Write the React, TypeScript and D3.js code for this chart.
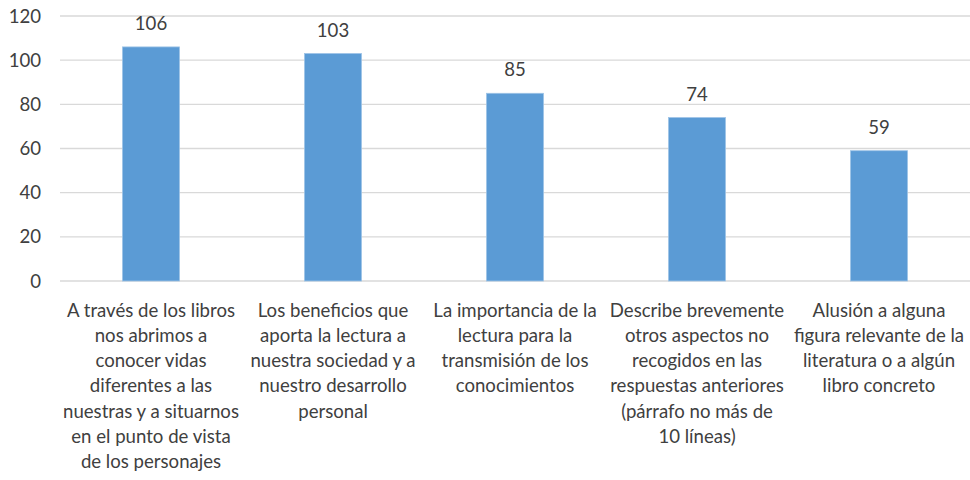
import React from "react";
import * as d3 from "d3";

const categories: string[][] = [
  ["A través de los libros", "nos abrimos a", "conocer vidas", "diferentes a las", "nuestras y a situarnos", "en el punto de vista", "de los personajes"],
  ["Los beneficios que", "aporta la lectura a", "nuestra sociedad y a", "nuestro desarrollo", "personal"],
  ["La importancia de la", "lectura para la", "transmisión de los", "conocimientos"],
  ["Describe brevemente", "otros aspectos no", "recogidos en las", "respuestas anteriores", "(párrafo no más de", "10 líneas)"],
  ["Alusión a alguna", "figura relevante de la", "literatura o a algún", "libro concreto"],
];
const values: number[] = [106, 103, 85, 74, 59];
const yTicks: number[] = [0, 20, 40, 60, 80, 100, 120];

const W = 970;
const H = 480;
const FONT = "Lato, 'Open Sans', sans-serif";
const FS = 18.6;

export default function App() {
  const x = d3.scaleBand<number>().domain(d3.range(values.length)).range([60, 970]).paddingInner(0.687).paddingOuter(0.3435);
  const y = d3.scaleLinear().domain([0, 120]).range([281, 16]);
  const textColor = "#404040";
  return (
    <svg width={W} height={H} style={{ position: "absolute", left: 0, top: 0 }}>
      <rect width={W} height={H} fill="#fff" />
      {yTicks.map((t) => (
        <g key={t}>
          <line x1={60} x2={970} y1={y(t)} y2={y(t)} stroke="#d9d9d9" strokeWidth={1.3} />
          <text x={41} y={y(t)} dy="0.35em" textAnchor="end" fontFamily={FONT} fontSize={FS} fill={textColor}>
            {t}
          </text>
        </g>
      ))}
      {values.map((v, i) => {
        const bx = x(i)!;
        const bw = x.bandwidth();
        const cx = bx + bw / 2;
        return (
          <g key={i}>
            <rect x={bx} y={y(v)} width={bw} height={y(0) - y(v)} fill="#5B9BD5" stroke="#9dc3e6" strokeWidth={0.8} />
            <text x={cx} y={y(v) - 17} textAnchor="middle" fontFamily={FONT} fontSize={FS} fill={textColor}>
              {v}
            </text>
            {categories[i].map((line, j) => (
              <text key={j} x={cx} y={310 + j * 25.3} dy="0.35em" textAnchor="middle" fontFamily={FONT} fontSize={FS} fill={textColor}>
                {line}
              </text>
            ))}
          </g>
        );
      })}
    </svg>
  );
}
